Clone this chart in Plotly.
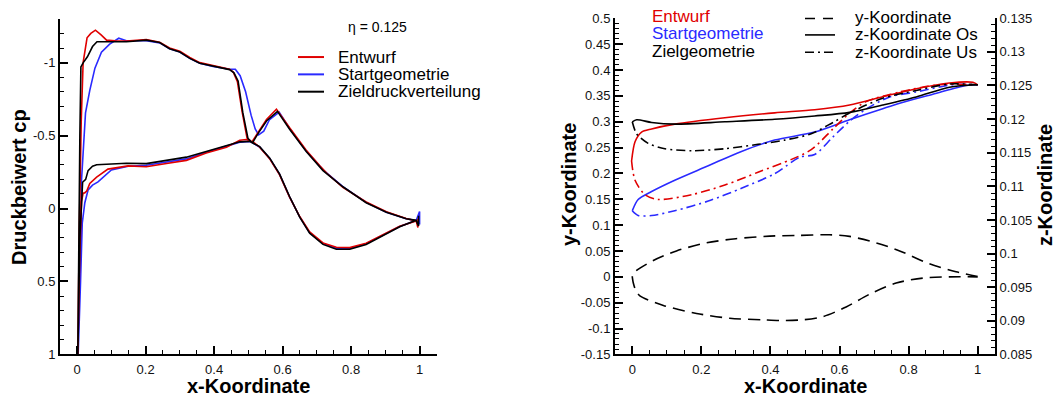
import plotly.graph_objects as go

# ---------------- Left chart: pressure coefficient ----------------
# Zieldruckverteilung (black)
ziel_up_x = [0.002, 0.005, 0.008, 0.011, 0.018, 0.03, 0.045, 0.058, 0.095, 0.144, 0.202, 0.241, 0.27, 0.30, 0.329, 0.358, 0.397, 0.445, 0.458, 0.47, 0.484, 0.499, 0.512, 0.53, 0.553, 0.585, 0.62, 0.669, 0.718, 0.776, 0.844, 0.903, 0.961, 0.99, 0.997, 0.997]
ziel_up_cp = [1.0, 0.3, -0.5, -0.97, -1.0, -1.04, -1.11, -1.143, -1.143, -1.143, -1.154, -1.138, -1.095, -1.073, -1.029, -0.996, -0.974, -0.952, -0.93, -0.874, -0.655, -0.479, -0.45, -0.52, -0.6, -0.666, -0.545, -0.391, -0.26, -0.149, -0.04, 0.026, 0.07, 0.081, 0.12, 0.05]
ziel_lo_x = [0.002, 0.008, 0.012, 0.016, 0.025, 0.032, 0.045, 0.057, 0.086, 0.144, 0.202, 0.261, 0.319, 0.377, 0.436, 0.475, 0.504, 0.533, 0.562, 0.591, 0.62, 0.65, 0.679, 0.718, 0.757, 0.796, 0.844, 0.893, 0.942, 0.99]
ziel_lo_cp = [1.0, 0.2, -0.05, -0.18, -0.2, -0.26, -0.29, -0.3, -0.303, -0.31, -0.308, -0.33, -0.352, -0.391, -0.431, -0.457, -0.46, -0.424, -0.347, -0.237, -0.084, 0.059, 0.169, 0.246, 0.279, 0.279, 0.246, 0.185, 0.125, 0.081]

# Entwurf (red)
entw_up_x = [0.002, 0.006, 0.012, 0.0175, 0.029, 0.04, 0.0535, 0.07, 0.086, 0.11, 0.144, 0.202, 0.241, 0.27, 0.30, 0.329, 0.358, 0.397, 0.445, 0.456, 0.468, 0.482, 0.496, 0.51, 0.53, 0.553, 0.582, 0.62, 0.669, 0.71, 0.73, 0.776, 0.844, 0.903, 0.961, 0.99, 0.995, 0.995]
entw_up_cp = [1.0, 0.2, -0.6, -1.0, -1.17, -1.2, -1.222, -1.19, -1.154, -1.15, -1.148, -1.158, -1.14, -1.1, -1.078, -1.035, -1.0, -0.98, -0.955, -0.935, -0.87, -0.66, -0.485, -0.455, -0.53, -0.61, -0.681, -0.555, -0.4, -0.29, -0.24, -0.145, -0.045, 0.022, 0.068, 0.085, 0.13, 0.07]
entw_lo_x = [0.002, 0.008, 0.013, 0.0175, 0.022, 0.028, 0.037, 0.057, 0.09, 0.149, 0.202, 0.261, 0.319, 0.377, 0.436, 0.475, 0.494, 0.515, 0.533, 0.562, 0.591, 0.62, 0.65, 0.679, 0.718, 0.757, 0.796, 0.844, 0.893, 0.942, 0.99]
entw_lo_cp = [1.0, 0.3, -0.05, -0.105, -0.107, -0.12, -0.172, -0.215, -0.27, -0.292, -0.286, -0.308, -0.33, -0.38, -0.42, -0.468, -0.473, -0.455, -0.42, -0.342, -0.232, -0.08, 0.055, 0.16, 0.236, 0.266, 0.268, 0.238, 0.18, 0.122, 0.085]

# Startgeometrie (blue)
start_up_x = [0.003, 0.008, 0.013, 0.0245, 0.037, 0.052, 0.071, 0.095, 0.1216, 0.144, 0.202, 0.241, 0.27, 0.30, 0.329, 0.358, 0.397, 0.445, 0.462, 0.476, 0.492, 0.508, 0.52, 0.53, 0.545, 0.562, 0.59, 0.62, 0.669, 0.718, 0.776, 0.844, 0.903, 0.961, 0.99, 1.0, 1.0]
start_up_cp = [1.0, 0.5, -0.2, -0.655, -0.81, -0.962, -1.072, -1.127, -1.167, -1.15, -1.15, -1.135, -1.095, -1.073, -1.029, -0.996, -0.974, -0.955, -0.955, -0.91, -0.8, -0.64, -0.545, -0.505, -0.53, -0.61, -0.66, -0.55, -0.395, -0.265, -0.15, -0.042, 0.025, 0.07, 0.082, 0.02, 0.11]
start_lo_x = [0.003, 0.01, 0.015, 0.0225, 0.032, 0.045, 0.061, 0.1, 0.149, 0.202, 0.261, 0.319, 0.377, 0.436, 0.475, 0.504, 0.533, 0.562, 0.591, 0.62, 0.65, 0.679, 0.718, 0.757, 0.796, 0.844, 0.893, 0.942, 0.99]
start_lo_cp = [1.0, 0.5, 0.1, -0.04, -0.127, -0.16, -0.182, -0.264, -0.29, -0.297, -0.318, -0.34, -0.385, -0.425, -0.455, -0.46, -0.422, -0.345, -0.235, -0.082, 0.057, 0.165, 0.24, 0.272, 0.274, 0.242, 0.182, 0.123, 0.082]

cp_tickvals = [1, 0.5, 0, -0.5, -1]
cp_ticktext = ["1", "0.5", "0", "-0.5", "-1"]

# ---------------- Right chart: geometry ----------------
# Airfoil section (y-Koordinate), dashed
prof_up_x = [0.0, 0.008, 0.061, 0.128, 0.215, 0.30, 0.398, 0.475, 0.571, 0.629, 0.706, 0.774, 0.86, 0.937, 1.0]
prof_up_y = [0.0, 0.0099, 0.0316, 0.0502, 0.0658, 0.0738, 0.0788, 0.08, 0.0813, 0.0782, 0.0658, 0.0502, 0.0254, 0.0099, 0.0006]
prof_lo_x = [0.0, 0.003, 0.01, 0.022, 0.09, 0.186, 0.282, 0.379, 0.436, 0.494, 0.552, 0.619, 0.687, 0.764, 0.841, 0.918, 1.0]
prof_lo_y = [0.0, -0.012, -0.026, -0.0366, -0.0552, -0.0707, -0.08, -0.0831, -0.0844, -0.0831, -0.0769, -0.0583, -0.0335, -0.0118, -0.0025, 0.0, 0.0]

# z-Koordinate Os (solid) / Us (dash-dot)
ziel_os_x = [0.0, 0.0127, 0.056, 0.123, 0.268, 0.412, 0.528, 0.629, 0.725, 0.822, 0.918, 1.0]
ziel_os_z = [0.1196, 0.1199, 0.1195, 0.11925, 0.1196, 0.11997, 0.12046, 0.1210, 0.1221, 0.1233, 0.12475, 0.1251]
ziel_us_x = [0.0, 0.0127, 0.046, 0.0945, 0.172, 0.268, 0.364, 0.441, 0.518, 0.581, 0.629, 0.725, 0.822, 0.918, 1.0]
ziel_us_z = [0.1196, 0.1178, 0.11639, 0.11559, 0.1153, 0.11559, 0.11625, 0.11688, 0.11782, 0.1195, 0.1209, 0.1231, 0.12426, 0.12522, 0.1251]

entw_os_x = [-0.002, 0.008, 0.027, 0.056, 0.123, 0.268, 0.412, 0.528, 0.629, 0.725, 0.822, 0.918, 0.986, 1.0]
entw_os_z = [0.11377, 0.11664, 0.11807, 0.11854, 0.11925, 0.1202, 0.12093, 0.1214, 0.1221, 0.12332, 0.12451, 0.12537, 0.12547, 0.1251]
entw_us_x = [-0.002, 0.008, 0.037, 0.075, 0.172, 0.268, 0.364, 0.461, 0.518, 0.581, 0.629, 0.677, 0.774, 0.889, 1.0]
entw_us_z = [0.11377, 0.1109, 0.10876, 0.10805, 0.10876, 0.11019, 0.1121, 0.11401, 0.11545, 0.11854, 0.1209, 0.1226, 0.12404, 0.12512, 0.1251]

start_os_x = [0.0, 0.017, 0.056, 0.123, 0.22, 0.316, 0.412, 0.528, 0.629, 0.725, 0.774, 0.87, 0.966, 1.0]
start_os_z = [0.10637, 0.10805, 0.10923, 0.11091, 0.11306, 0.1152, 0.11688, 0.11807, 0.1199, 0.12155, 0.12236, 0.12369, 0.125, 0.1251]
start_us_x = [0.0, 0.017, 0.056, 0.123, 0.22, 0.316, 0.412, 0.485, 0.528, 0.581, 0.629, 0.677, 0.745, 0.822, 0.929, 1.0]
start_us_z = [0.10637, 0.10566, 0.10566, 0.10637, 0.10781, 0.10972, 0.11187, 0.11434, 0.11473, 0.11735, 0.1197, 0.1215, 0.1233, 0.12404, 0.12512, 0.1251]

y_tickvals = [0.5, 0.45, 0.4, 0.35, 0.3, 0.25, 0.2, 0.15, 0.1, 0.05, 0, -0.05, -0.1, -0.15]
y_ticktext = ["0.5", "0.45", "0.4", "0.35", "0.3", "0.25", "0.2", "0.15", "0.1", "0.05", "0", "-0.05", "-0.1", "-0.15"]

RED = "#e00000"
BLUE = "#2a2aff"
BLACK = "#000000"
FONT = "Liberation Sans, Arial, sans-serif"
W, H = 1056, 399

fig = go.Figure()

# closed loop through the leading edge: upper branch reversed + lower branch
def loop(ux, uy, lx, ly):
    return list(reversed(ux)) + list(lx), list(reversed(uy)) + list(ly)

for name, col, (ux, uy, lx, ly) in [
    ("Startgeometrie", BLUE, (start_up_x, start_up_cp, start_lo_x, start_lo_cp)),
    ("Entwurf", RED, (entw_up_x, entw_up_cp, entw_lo_x, entw_lo_cp)),
    ("Zieldruckverteilung", BLACK, (ziel_up_x, ziel_up_cp, ziel_lo_x, ziel_lo_cp)),
]:
    xs, ys = loop(ux, uy, lx, ly)
    fig.add_trace(go.Scatter(x=xs, y=ys, mode="lines", name=name,
                             line=dict(color=col, width=1.6), xaxis="x", yaxis="y",
                             showlegend=False))

# right chart: airfoil on y axis
xs, ys = loop(prof_up_x, prof_up_y, prof_lo_x, prof_lo_y)
fig.add_trace(go.Scatter(x=xs, y=ys, mode="lines", name="y-Koordinate",
                         line=dict(color=BLACK, width=1.6, dash="12px,7px", shape="spline", smoothing=0.8),
                         xaxis="x2", yaxis="y2", showlegend=False))

DASHDOT = "9px,4px,2px,4px"
for col, ox, oz, ux, uz in [
    (BLUE, start_os_x, start_os_z, start_us_x, start_us_z),
    (RED, entw_os_x, entw_os_z, entw_us_x, entw_us_z),
    (BLACK, ziel_os_x, ziel_os_z, ziel_us_x, ziel_us_z),
]:
    fig.add_trace(go.Scatter(x=ox, y=oz, mode="lines",
                             line=dict(color=col, width=1.6, shape="spline", smoothing=0.8),
                             xaxis="x2", yaxis="y3", showlegend=False))
    fig.add_trace(go.Scatter(x=ux, y=uz, mode="lines",
                             line=dict(color=col, width=1.6, dash=DASHDOT, shape="spline", smoothing=0.8),
                             xaxis="x2", yaxis="y3", showlegend=False))

tickfont = dict(family=FONT, size=13, color="#111")
common_ax = dict(showgrid=False, zeroline=False, showline=True, linecolor="black", linewidth=2,
                 ticks="inside", ticklen=8, tickwidth=1.5, tickcolor="black", tickfont=tickfont)
minor_x = dict(ticks="inside", ticklen=4, tickwidth=1, tickcolor="black", tickmode="linear", tick0=0, dtick=0.05)

top = 1 - 12.3 / H
bot = 1 - 361 / H

fig.update_layout(
    width=W, height=H, margin=dict(l=0, r=0, t=0, b=0),
    paper_bgcolor="white", plot_bgcolor="white",
    xaxis=dict(domain=[60 / W, 436.7 / W], range=[-0.05, 1.05], anchor="y",
               tickmode="linear", tick0=0, dtick=0.2, minor=minor_x, ticklabelstandoff=2,
               **common_ax),
    yaxis=dict(domain=[bot, top], range=[1, -1.3], anchor="x",
               tickmode="array", tickvals=cp_tickvals, ticktext=cp_ticktext,
               minor=dict(ticks="inside", ticklen=4, tickwidth=1, tickcolor="black", tickmode="linear", tick0=0, dtick=0.1),
               **common_ax),
    xaxis2=dict(domain=[615 / W, 995 / W], range=[-0.05, 1.05], anchor="y2",
                tickmode="linear", tick0=0, dtick=0.2, minor=minor_x, ticklabelstandoff=2,
                **common_ax),
    yaxis2=dict(domain=[bot, 1 - 11.7 / H], range=[-0.15, 0.5], anchor="x2",
                tickmode="array", tickvals=y_tickvals, ticktext=y_ticktext,
                minor=dict(ticks="inside", ticklen=4, tickwidth=1, tickcolor="black", tickmode="linear", tick0=0, dtick=0.01),
                **common_ax),
    yaxis3=dict(range=[0.085, 0.135], overlaying="y2", side="right", anchor="x2",
                tickmode="linear", tick0=0.085, dtick=0.005,
                minor=dict(ticks="inside", ticklen=4, tickwidth=1, tickcolor="black", tickmode="linear", tick0=0.085, dtick=0.001),
                **common_ax),
)

def P(px, py):
    return px / W, 1 - py / H

annots = []
def text(px, py, s, size, color="black", bold=False, angle=0, xanchor="center"):
    x, y = P(px, py)
    annots.append(dict(x=x, y=y, xref="paper", yref="paper", text=(f"<b>{s}</b>" if bold else s),
                       showarrow=False, textangle=angle, xanchor=xanchor, yanchor="middle",
                       borderpad=0, font=dict(family=FONT, size=size, color=color)))

# axis titles
text(248, 394, "x-Koordinate", 20, bold=True)
text(19, 187, "Druckbeiwert cp", 20, bold=True, angle=-90)
text(805, 394, "x-Koordinate", 20, bold=True)
text(569, 185, "y-Koordinate", 20, bold=True, angle=-90)
text(1045, 185, "z-Koordinate", 20, bold=True, angle=-90)

# left legend + eta label
text(377, 21, "η = 0.125", 14)
text(337, 52, "Entwurf", 17, xanchor="left")
text(337, 70, "Startgeometrie", 17, xanchor="left")
text(337, 88, "Zieldruckverteilung", 17, xanchor="left")

# right legend
text(651, 10, "Entwurf", 17, color=RED, xanchor="left")
text(651, 28, "Startgeometrie", 17, color=BLUE, xanchor="left")
text(651, 46, "Zielgeometrie", 17, xanchor="left")
text(854, 11, "y-Koordinate", 17, xanchor="left")
text(854, 29, "z-Koordinate Os", 17, xanchor="left")
text(854, 47, "z-Koordinate Us", 17, xanchor="left")

shapes = []
def seg(px0, px1, py, color, dash="solid", width=2):
    x0, y0 = P(px0, py)
    x1, _ = P(px1, py)
    shapes.append(dict(type="line", xref="paper", yref="paper", x0=x0, x1=x1, y0=y0, y1=y0,
                       line=dict(color=color, width=width, dash=dash)))

seg(298, 324, 52, RED)
seg(298, 324, 70, BLUE)
seg(298, 324, 88, BLACK)
seg(805, 835, 12, BLACK, dash="10px,8px", width=1.6)
seg(805, 835, 29, BLACK, width=1.6)
seg(805, 835, 47, BLACK, dash="9px,4px,2px,4px", width=1.6)

fig.update_layout(annotations=annots, shapes=shapes)

fig.write_html("out.html", config={"displayModeBar": False},
               post_script="document.body.style.margin='0';document.body.style.overflow='hidden';")
